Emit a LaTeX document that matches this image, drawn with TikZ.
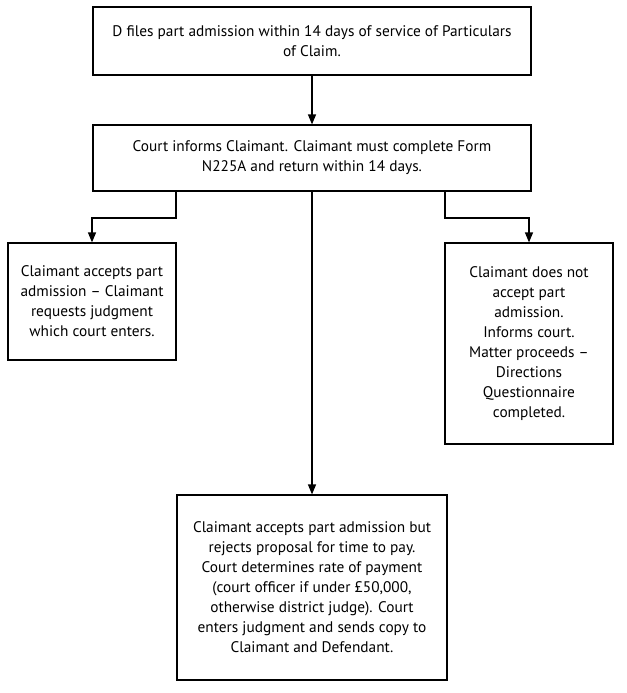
\documentclass[tikz,border=0pt]{standalone}
\usepackage{fontspec}
\setmainfont{PT Sans}
\usetikzlibrary{arrows.meta}
\begin{document}
\begin{tikzpicture}[x=0.75pt,y=-0.75pt,
  flowbox/.style={draw,line width=0.9pt,align=center,font=\fontsize{11.5}{15}\selectfont,inner sep=0pt},
  conn/.style={line width=0.9pt,-{Triangle[length=7.5pt,width=6pt]}}]
\useasboundingbox (0,0) rectangle (626,693);
\node[flowbox,minimum width=438*0.75pt,minimum height=68*0.75pt] (a) at (312,41) {D files part admission within 14 days of service of Particulars\\of Claim.};
\node[flowbox,minimum width=438*0.75pt,minimum height=66*0.75pt] (b) at (312,158) {Court informs Claimant. Claimant must complete Form\\N225A and return within 14 days.};
\node[flowbox,minimum width=168*0.75pt,minimum height=117*0.75pt] (c) at (92,301.5) {Claimant accepts part\\admission -- Claimant\\requests judgment\\which court enters.};
\node[flowbox,minimum width=168*0.75pt,minimum height=201*0.75pt] (d) at (529,343.5) {Claimant does not\\accept part\\admission.\\Informs court.\\Matter proceeds --\\Directions\\Questionnaire\\completed.};
\node[flowbox,minimum width=270*0.75pt,minimum height=185*0.75pt] (e) at (312,587.5) {Claimant accepts part admission but\\rejects proposal for time to pay.\\Court determines rate of payment\\(court officer if under £50,000,\\otherwise district judge). Court\\enters judgment and sends copy to\\Claimant and Defendant.};
\coordinate (bl) at (176,191);
\coordinate (br) at (445,191);
\draw[conn] (a.south) -- (b.north);
\draw[conn] (bl) -- ++(0,27) -| (c.north);
\draw[conn] (br) -- ++(0,27) -| (d.north);
\draw[conn] (b.south) -- (e.north);
\end{tikzpicture}
\end{document}
